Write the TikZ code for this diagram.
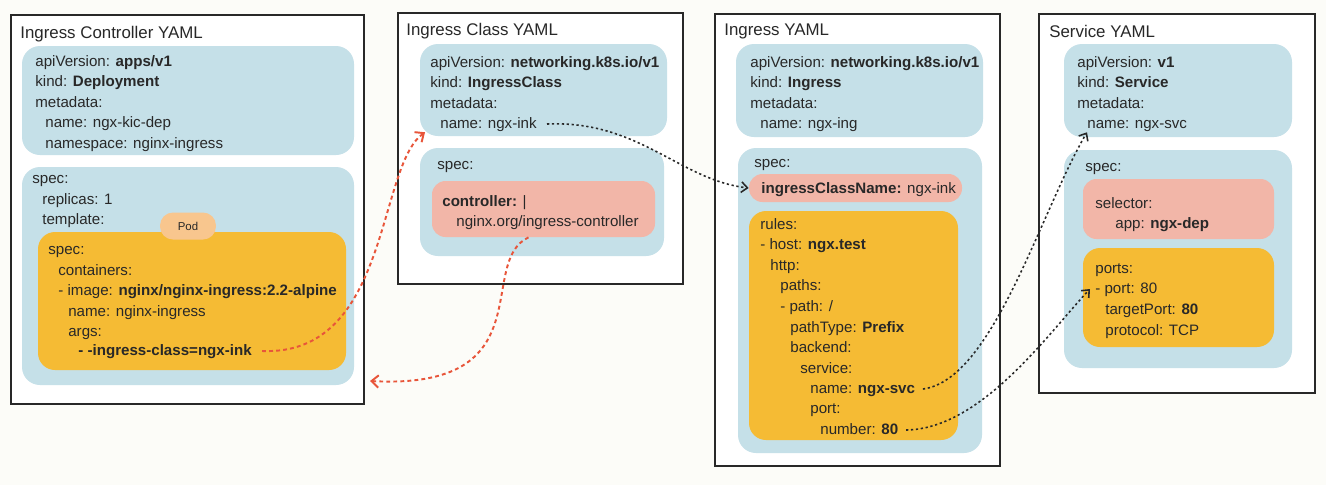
\documentclass[tikz,border=0pt]{standalone}
\usepackage{fontspec}
\setmainfont{Liberation Sans}
\usetikzlibrary{fit, arrows.meta}

\definecolor{bgpaper}{RGB}{252,252,248}
\definecolor{panelgray}{RGB}{40,40,40}
\definecolor{ink}{RGB}{40,40,40}
\definecolor{yamlblue}{RGB}{197,224,232}
\definecolor{yamlorange}{RGB}{245,187,52}
\definecolor{yamlpink}{RGB}{242,182,168}
\definecolor{podpill}{RGB}{248,198,142}
\definecolor{linkred}{RGB}{232,85,58}

\newlength{\yamlstep}
\setlength{\yamlstep}{0.2cm}
\newcommand{\yi}[1]{\hspace*{#1\yamlstep}}

\begin{document}
\begin{tikzpicture}[x=0.02cm, y=-0.02cm]
\tikzstyle{panel} = [rectangle, draw=panelgray, line width=1.2pt, fill=white, inner sep=0pt]
\tikzstyle{ytitle} = [anchor=west, inner sep=0pt, text=ink, font={\fontsize{9.6}{11}\selectfont}]
\tikzstyle{bluebox} = [rectangle, rounded corners=0.36cm, fill=yamlblue, inner sep=0pt]
\tikzstyle{orangebox} = [rectangle, rounded corners=0.34cm, fill=yamlorange, inner sep=0pt]
\tikzstyle{pinkbox} = [rectangle, rounded corners=0.27cm, fill=yamlpink, inner sep=0pt]
\tikzstyle{podtag} = [rectangle, rounded corners=0.26cm, fill=podpill, minimum width=1.12cm, minimum height=0.54cm, inner sep=0pt, text=ink, font={\fontsize{6.5}{7}\selectfont}]
\tikzstyle{yaml} = [anchor=north west, align=left, inner sep=0pt, text=ink, font={\fontsize{8.6}{11.7}\selectfont}, execute at begin node={\rule[-2pt]{0pt}{9pt}}]
\tikzstyle{yamlline} = [yaml, anchor=west]
\tikzstyle{redlink} = [draw=linkred, line width=1.1pt, dash pattern=on 2.2pt off 1.8pt, -{Straight Barb[length=4pt,width=7pt]}]
\tikzstyle{blacklink} = [draw=ink, line width=0.9pt, dash pattern=on 1.3pt off 1.5pt, -{Straight Barb[length=3.5pt,width=6pt]}]

% Background
\path[use as bounding box, fill=bgpaper] (0,0) rectangle (1326,485);

% Ingress Controller YAML
\node[panel, fit={(11,15) (364,404)}] (ctlpanel) {};
\node[ytitle] (ctltitle) at (20,34) {Ingress Controller YAML};
\node[bluebox, fit={(22,46) (354,155)}] (ctlmetabox) {};
\node[yaml] (ctlmeta) at (35,55) {apiVersion: \textbf{apps/v1}\\kind: \textbf{Deployment}\\metadata:\\\yi{1}name: ngx-kic-dep\\\yi{1}namespace: nginx-ingress};
\node[bluebox, fit={(22,167) (354,385)}] (ctlspecbox) {};
\node[yaml] (ctlspec) at (32,175) {spec:\\\yi{1}replicas: 1\\\yi{1}template:};
\node[orangebox, fit={(38,232) (346,370)}] (ctlpodbox) {};
\node[podtag] (ctlpod) at (188,226) {Pod};
\node[yaml] (ctlcont) at (48,246) {spec:\\\yi{1}containers:\\\yi{1}- image: \textbf{nginx/nginx-ingress:2.2-alpine}\\\yi{2}name: nginx-ingress\\\yi{2}args:};
\node[yamlline] (ctlarg) at (78,351) {\textbf{- -ingress-class=ngx-ink}};

% Ingress Class YAML
\node[panel, fit={(398,13) (683,284)}] (icpanel) {};
\node[ytitle] (ictitle) at (406,31) {Ingress Class YAML};
\node[bluebox, fit={(420,44) (667,136)}] (icmetabox) {};
\node[yaml] (icmeta) at (430,56) {apiVersion: \textbf{networking.k8s.io/v1}\\kind: \textbf{IngressClass}\\metadata:};
\node[yamlline] (icname) at (440,124) {name: ngx-ink};
\node[bluebox, fit={(420,148) (664,256)}] (icspecbox) {};
\node[yamlline] (icspec) at (437,165) {spec:};
\node[pinkbox, fit={(432,181) (655,237)}] (icctlbox) {};
\node[yaml] (icctl) at (442,195) {\textbf{controller:} |\\\hspace*{0.28cm}nginx.org/ingress-controller};

% Ingress YAML
\node[panel, fit={(715,14) (1000,466)}] (ingpanel) {};
\node[ytitle] (ingtitle) at (724,31) {Ingress YAML};
\node[bluebox, fit={(736,44) (983,137)}] (ingmetabox) {};
\node[yaml] (ingmeta) at (750,56) {apiVersion: \textbf{networking.k8s.io/v1}\\kind: \textbf{Ingress}\\metadata:\\\yi{1}name: ngx-ing};
\node[bluebox, fit={(738,148) (982,453)}] (ingspecbox) {};
\node[yamlline] (ingspec) at (754,163) {spec:};
\node[pinkbox, fit={(749,174) (962,202)}] (ingclsbox) {};
\node[yamlline] (ingcls) at (761,189) {\textbf{ingressClassName:} ngx-ink};
\node[orangebox, fit={(749,211) (958,440)}] (ingrulebox) {};
\node[yaml] (ingrule) at (760,218) {rules:\\- host: \textbf{ngx.test}\\\yi{1}http:\\\yi{2}paths:\\\yi{2}- path: /\\\yi{3}pathType: \textbf{Prefix}\\\yi{3}backend:\\\yi{4}service:};
\node[yamlline] (ingsvc) at (810,389) {name: \textbf{ngx-svc}};
\node[yamlline] (ingport) at (810,409) {port:};
\node[yamlline] (ingnum) at (820,430) {number: \textbf{80}};

% Service YAML
\node[panel, fit={(1039,14) (1315,393)}] (svcpanel) {};
\node[ytitle] (svctitle) at (1049,31) {Service YAML};
\node[bluebox, fit={(1064,44) (1292,137)}] (svcmetabox) {};
\node[yaml] (svcmeta) at (1077,56) {apiVersion: \textbf{v1}\\kind: \textbf{Service}\\metadata:};
\node[yamlline] (svcname) at (1087,124) {name: ngx-svc};
\node[bluebox, fit={(1064,150) (1292,368)}] (svcspecbox) {};
\node[yamlline] (svcspec) at (1085,167) {spec:};
\node[pinkbox, fit={(1083,179) (1274,239)}] (svcselbox) {};
\node[yaml] (svcsel) at (1095,197) {selector:\\\yi{2}app: \textbf{ngx-dep}};
\node[orangebox, fit={(1083,248) (1274,347)}] (svcportbox) {};
\node[yamlline] (svcports) at (1095,269) {ports:};
\node[yamlline] (svcport) at (1095,289) {- port: 80};
\node[yaml] (svctarget) at (1105,304) {targetPort: \textbf{80}\\protocol: TCP};

% Links
\coordinate (ctlback) at (370,381);
\draw[redlink] ([xshift=2mm]ctlarg.east) .. controls +(128,5) and +(-48,34) .. ([xshift=-3mm]icname.south west);
\draw[redlink] ([xshift=-3mm]icctlbox.south) .. controls +(-53,25) and +(175,9) .. (ctlback);
\draw[blacklink] ([xshift=2mm]icname.east) .. controls +(92,-4) and +(-69,-8) .. (ingclsbox.west);
\draw[blacklink] ([xshift=1.5mm]ingsvc.east) .. controls +(70,-9) and +(-47,80) .. (svcname.south west);
\draw[blacklink] ([xshift=1.5mm]ingnum.east) .. controls +(76,-1) and +(-40,42) .. ([xshift=-1mm]svcport.west);

\end{tikzpicture}
\end{document}
